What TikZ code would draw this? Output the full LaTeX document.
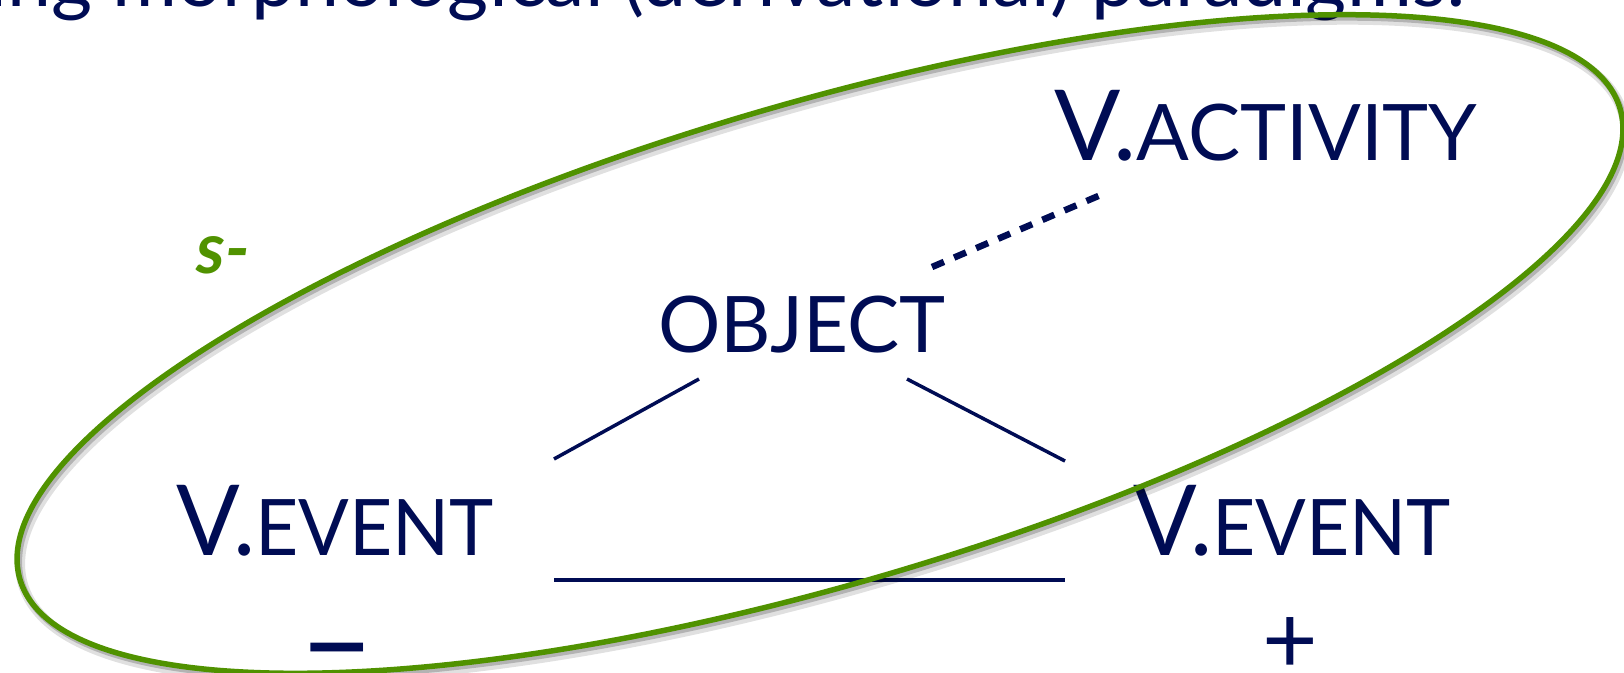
\documentclass[tikz,border=0pt]{standalone}
\usepackage{fontspec}
\setmainfont{Lato}
\usetikzlibrary{positioning}
\definecolor{slidenavy}{RGB}{0,12,84}
\definecolor{slidegreen}{RGB}{80,146,0}
\newcommand\lowcaps[1]{{\fontsize{78}{90}\selectfont #1}}

\begin{document}
\begin{tikzpicture}[x=1pt,y=-1pt,
    cat/.style={anchor=base,inner sep=0pt,text=slidenavy,font=\fontsize{98}{110}\selectfont},
    sign/.style={anchor=base,inner sep=0pt,text=slidenavy,font=\fontsize{96}{100}\selectfont},
    link/.style={slidenavy,line width=3.5pt}]
  \useasboundingbox (0,0) rectangle (1624,672);
  % title line, cut off by the top edge
  \node[anchor=base east,inner sep=0pt,text=slidenavy,font=\fontsize{79}{90}\selectfont] (title) at (1466,6) {ing morphological (derivational) paradigms:};
  % categories
  \node[cat] (act) at (1266,160) {V.\lowcaps{ACTIVITY}};
  \node[cat] (obj) at (802,352) {\lowcaps{OBJECT}};
  \node[cat,xscale=0.96] (evl) at (335,555) {V.\lowcaps{EVENT}};
  \node[cat,xscale=0.96] (evr) at (1292,555) {V.\lowcaps{EVENT}};
  \node[sign,xscale=1.3,font=\bfseries\fontsize{100}{100}\selectfont] (minus) at (337,677) {–};
  \node[sign] (plus) at (1290,673) {+};
  \node[anchor=base west,inner sep=0pt,text=slidegreen,font=\bfseries\itshape\fontsize{71}{80}\selectfont] (sfx) at (196,273) {s-};
  % line ends
  \coordinate (objl) at (699,379);
  \coordinate (evlt) at (554,459);
  \coordinate (objr) at (907,379);
  \coordinate (evrt) at (1065,461);
  \coordinate (evlr) at (554,580);
  \coordinate (evrl) at (1065,580);
  \coordinate (objd) at (932,267);
  \coordinate (actd) at (1103,194);
  \draw[link] (objl) -- (evlt);
  \draw[link] (objr) -- (evrt);
  \draw[link] (evlr) -- (evrl);
  \draw[slidenavy,line width=6.5pt,dash pattern=on 13pt off 11pt] (objd) -- (actd);
  % ring round the s- forms, with its shadow
  \draw[black,opacity=0.12,line width=10pt,rotate around={16.4:(823,349)}] (823,349) ellipse [x radius=834, y radius=240];
  \draw[black,opacity=0.2,line width=6pt,rotate around={16.4:(822,347)}] (822,347) ellipse [x radius=834, y radius=240];
  \draw[slidegreen,line width=5.5pt,rotate around={16.4:(820,344)}] (820,344) ellipse [x radius=834, y radius=240];
\end{tikzpicture}
\end{document}
